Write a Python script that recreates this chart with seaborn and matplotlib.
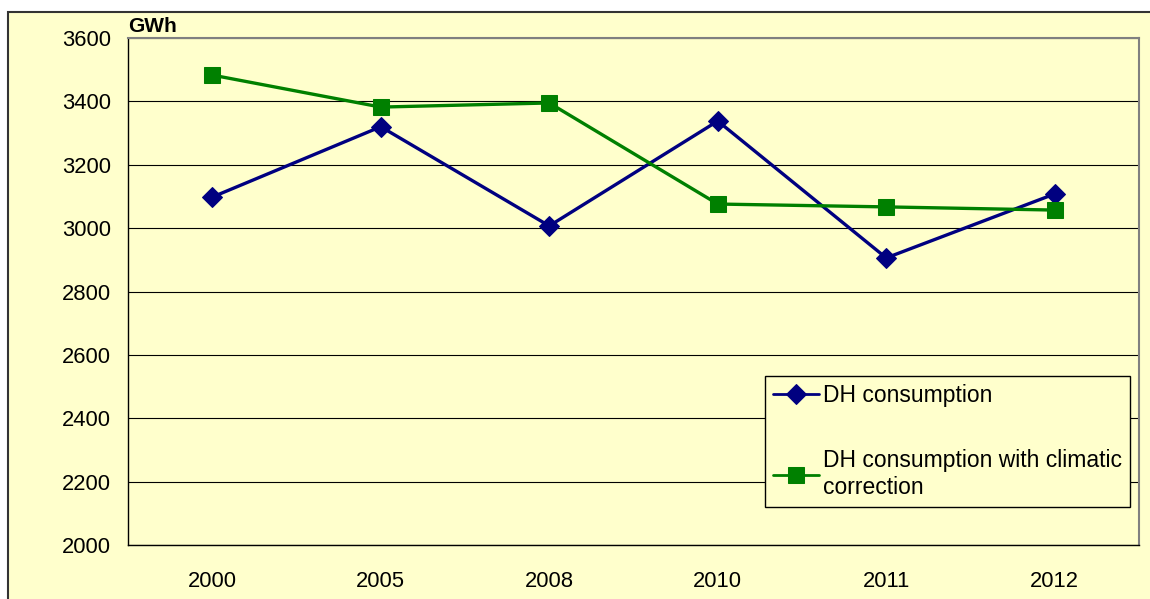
import pandas as pd
import matplotlib
matplotlib.use("Agg")
import matplotlib.pyplot as plt
from matplotlib.patches import Rectangle
from matplotlib.ticker import FixedLocator
import seaborn as sns

# values (GWh)
years = ["2000", "2005", "2008", "2010", "2011", "2012"]
dh_consumption = [3098, 3320, 3007, 3338, 2906, 3108]
dh_climatic = [3483, 3382, 3395, 3076, 3067, 3057]
series_names = ["DH consumption", "DH consumption with climatic\ncorrection"]

BG = "#FFFFCC"

sns.set_style("white")
plt.rcParams["font.family"] = ["Liberation Sans", "DejaVu Sans"]
plt.rcParams["text.color"] = "black"
plt.rcParams["xtick.color"] = "black"
plt.rcParams["ytick.color"] = "black"

fig = plt.figure(figsize=(11.5, 5.99), dpi=100, facecolor="white")
# chart area frame
fig.patches.append(Rectangle((7.5 / 1150, -0.1), 1.5, 1.1 - 12 / 599,
                             transform=fig.transFigure, facecolor=BG,
                             edgecolor="#333333", lw=1.5, zorder=-10))

ax = fig.add_axes([128 / 1150, 54 / 599, 1011 / 1150, 507 / 599])
ax.set_facecolor(BG)

df = pd.DataFrame({"Year": years, "a": dh_consumption, "b": dh_climatic})

sns.lineplot(data=df, x="Year", y="a", ax=ax, color="#000080", lw=2.4,
             marker="D", markersize=10, markeredgecolor="#000080",
             label=series_names[0], zorder=3)
sns.lineplot(data=df, x="Year", y="b", ax=ax, color="#008000", lw=2.4,
             marker="s", markersize=11.5, markeredgecolor="#008000",
             label=series_names[1], zorder=3)

ax.set_xlim(-0.5, len(years) - 0.5)
ax.set_ylim(2000, 3600)
ax.set_yticks(range(2000, 3601, 200))
ax.yaxis.grid(True, color="black", lw=0.8)
ax.set_axisbelow(True)

# ticks between categories, labels centred on categories
ax.xaxis.set_major_locator(FixedLocator([i - 0.5 for i in range(len(years) + 1)]))
ax.xaxis.set_minor_locator(FixedLocator(list(range(len(years)))))
ax.set_xticklabels([])
ax.set_xticklabels(years, minor=True)
ax.tick_params(axis="x", which="major", direction="out", length=7, width=1, color="black")
ax.tick_params(axis="x", which="minor", length=0, pad=19, labelsize=15.8)
ax.tick_params(axis="y", direction="out", length=6, width=1, color="black", labelsize=15.8, pad=6)

ax.set_xlabel("")
ax.set_ylabel("")

for side in ["left", "bottom"]:
    ax.spines[side].set_color("black")
    ax.spines[side].set_linewidth(1)
for side in ["top", "right"]:
    ax.spines[side].set_color("#808080")
    ax.spines[side].set_linewidth(1.5)

ax.text(0, 1.003, "GWh", transform=ax.transAxes, fontsize=15, fontweight="bold",
        ha="left", va="bottom")

leg = ax.legend(loc="upper left", bbox_to_anchor=(765 / 1150, 1 - 376 / 599),
                bbox_transform=fig.transFigure, fontsize=16.5, frameon=True,
                fancybox=False, edgecolor="black", facecolor=BG, framealpha=1,
                handlelength=2.0, handletextpad=0.2, labelspacing=1.85,
                borderpad=0.35, borderaxespad=0)
leg.get_frame().set_linewidth(1)
for h in leg.legend_handles:
    h.set_linewidth(2)

fig.savefig("out.png", dpi=100, facecolor="white")
